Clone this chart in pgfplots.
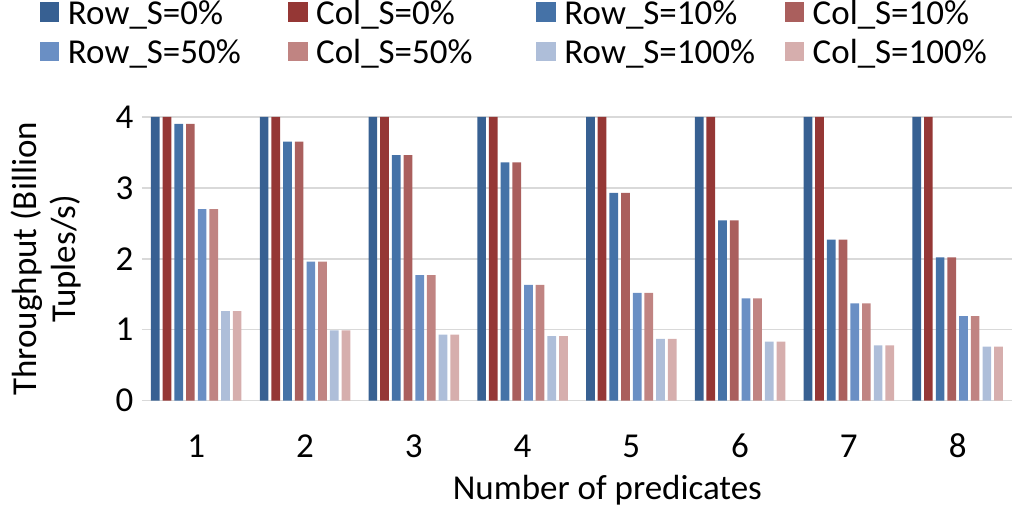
\documentclass[border=0pt]{standalone}
\usepackage{fontspec}
\setmainfont{Carlito}
\usepackage{pgfplots}
\pgfplotsset{compat=1.18}
\definecolor{rowA}{RGB}{55,96,146}
\definecolor{colA}{RGB}{149,55,53}
\definecolor{rowB}{RGB}{69,114,167}
\definecolor{colB}{RGB}{170,95,93}
\definecolor{rowC}{RGB}{106,143,196}
\definecolor{colC}{RGB}{192,132,130}
\definecolor{rowD}{RGB}{174,190,217}
\definecolor{colD}{RGB}{214,174,173}
\definecolor{gridc}{RGB}{217,217,217}
\newcommand{\lb}[1]{\makebox[110.25pt][l]{#1}}
\begin{document}
\fontsize{17.5}{19.5}\selectfont
\begin{tikzpicture}
\useasboundingbox (-71pt,-54.5pt) rectangle (435.5pt,200.5pt);
\begin{axis}[
  scale only axis,
  width=435.5pt, height=142pt,
  xmin=0.5, xmax=8.5, ymin=0, ymax=4,
  ybar, bar width=0.08,
  xtick={1,...,8}, ytick={0,1,2,3,4},
  major tick length=0pt,
  axis x line*=bottom, axis y line*=left,
  x axis line style={draw=gridc, line width=0.75pt},
  y axis line style={draw=none},
  ymajorgrids, grid style={draw=gridc, line width=0.75pt},
  /pgf/number format/assume math mode=true,
  tick label style={font=\fontsize{17.5}{19.5}\selectfont},
  xticklabel style={anchor=base, yshift=-28.5pt},
  yticklabel style={anchor=east, inner sep=4pt},
  xlabel={Number of predicates},
  xlabel style={at={(axis description cs:0.535,0)}, anchor=base, yshift=-49.5pt, font=\fontsize{17.5}{19.5}\selectfont},
  ylabel={Throughput (Billion\\Tuples/s)},
  ylabel style={at={(axis description cs:-0.1102,0.5)}, anchor=center, align=center, font=\fontsize{17.5}{19.5}\selectfont},
  legend columns=4,
  legend style={at={(axis description cs:0,1)}, anchor=north west, xshift=-51pt, yshift=58.5pt,
    draw=none, fill=none, inner sep=0pt, outer sep=0pt, row sep=5pt,
    font=\fontsize{17.5}{19.5}\selectfont,
    nodes={inner sep=0pt},
    /tikz/every odd column/.style={column sep=4.25pt}},
  legend image code/.code={\fill[#1] (0pt,-3.5pt) rectangle (9.75pt,6.25pt);},
  legend cell align=left,
]
\addplot[fill=rowA, draw=none, bar shift=-0.376] coordinates {(1,4) (2,4) (3,4) (4,4) (5,4) (6,4) (7,4) (8,4)};
\addplot[fill=colA, draw=none, bar shift=-0.269] coordinates {(1,4) (2,4) (3,4) (4,4) (5,4) (6,4) (7,4) (8,4)};
\addplot[fill=rowB, draw=none, bar shift=-0.161] coordinates {(1,3.90) (2,3.65) (3,3.46) (4,3.36) (5,2.93) (6,2.54) (7,2.27) (8,2.02)};
\addplot[fill=colB, draw=none, bar shift=-0.054] coordinates {(1,3.90) (2,3.65) (3,3.46) (4,3.36) (5,2.93) (6,2.54) (7,2.27) (8,2.02)};
\addplot[fill=rowC, draw=none, bar shift=0.054] coordinates {(1,2.70) (2,1.96) (3,1.77) (4,1.63) (5,1.52) (6,1.44) (7,1.37) (8,1.19)};
\addplot[fill=colC, draw=none, bar shift=0.161] coordinates {(1,2.70) (2,1.96) (3,1.77) (4,1.63) (5,1.52) (6,1.44) (7,1.37) (8,1.19)};
\addplot[fill=rowD, draw=none, bar shift=0.269] coordinates {(1,1.26) (2,0.99) (3,0.93) (4,0.91) (5,0.87) (6,0.83) (7,0.78) (8,0.76)};
\addplot[fill=colD, draw=none, bar shift=0.376] coordinates {(1,1.26) (2,0.99) (3,0.93) (4,0.91) (5,0.87) (6,0.83) (7,0.78) (8,0.76)};
\legend{\lb{Row\_S=0\%},\lb{Col\_S=0\%},\lb{Row\_S=10\%},\lb{Col\_S=10\%},\lb{Row\_S=50\%},\lb{Col\_S=50\%},\lb{Row\_S=100\%},\lb{Col\_S=100\%}}
\end{axis}
\end{tikzpicture}
\end{document}
